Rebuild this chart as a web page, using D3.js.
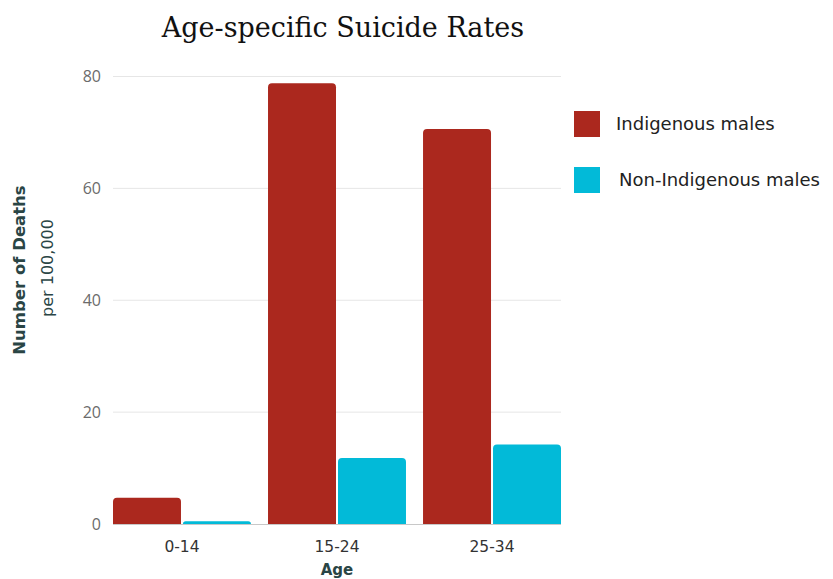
<!DOCTYPE html>
<html>
<head>
<meta charset="utf-8">
<script src="https://cdn.jsdelivr.net/npm/d3@7"></script>
<style>
  html, body { margin: 0; padding: 0; background: #fff; }
  svg { display: block; }
</style>
</head>
<body>
<svg id="chart" width="833" height="579"></svg>
<script>
const categories = ["0-14", "15-24", "25-34"];
const seriesNames = ["Indigenous males", "Non-Indigenous males"];
const indigenous = [4.7, 78.8, 70.6];
const nonIndigenous = [0.5, 11.8, 14.2];
const yTicks = [0, 20, 40, 60, 80];
const colors = ["#AB281E", "#02BAD8"];

const svg = d3.select("#chart");
const m = { left: 113, right: 561, top: 76.5, bottom: 524 };

const x0 = d3.scaleBand().domain(categories).range([m.left, m.right])
  .paddingInner(0.11).paddingOuter(0);
const x1 = d3.scaleBand().domain(seriesNames).range([0, x0.bandwidth()]).padding(0);
const y = d3.scaleLinear().domain([0, 80]).range([m.bottom, m.top]);

// gridlines
svg.append("g").selectAll("line").data(yTicks.filter(d => d > 0)).join("line")
  .attr("x1", m.left).attr("x2", m.right)
  .attr("y1", d => y(d)).attr("y2", d => y(d))
  .attr("stroke", "#e6e6e6").attr("stroke-width", 1);

// y tick labels
const yAxis = d3.axisLeft(y).tickValues(yTicks).tickSize(0).tickPadding(0);
const yg = svg.append("g").attr("transform", `translate(${m.left - 12},0)`).call(yAxis);
yg.select(".domain").remove();
yg.selectAll("text").attr("font-family", "'Open Sans', sans-serif")
  .attr("font-size", 16).attr("fill", "#6b6b6b");

// bars
const data = categories.map((c, i) => ({ cat: c, vals: [indigenous[i], nonIndigenous[i]] }));
function topRounded(x, yTop, w, h, r) {
  r = Math.min(r, h, w / 2);
  return `M${x},${yTop + h}V${yTop + r}Q${x},${yTop} ${x + r},${yTop}H${x + w - r}Q${x + w},${yTop} ${x + w},${yTop + r}V${yTop + h}Z`;
}
const groups = svg.append("g").selectAll("g").data(data).join("g")
  .attr("transform", d => `translate(${x0(d.cat)},0)`);
groups.selectAll("path").data(d => d.vals.map((v, j) => ({ v, s: seriesNames[j], j }))).join("path")
  .attr("d", d => {
    const bx = x1(d.s) + (d.j === 1 ? 1 : 0);
    const bw = x1.bandwidth() - 1;
    return topRounded(bx, y(d.v), bw, y(0) - y(d.v), 4);
  })
  .attr("fill", d => colors[d.j]);

// baseline
svg.append("line").attr("x1", m.left).attr("x2", m.right)
  .attr("y1", y(0) + 0.5).attr("y2", y(0) + 0.5)
  .attr("stroke", "#c8c8c8").attr("stroke-width", 1);

// x tick labels
const xAxis = d3.axisBottom(x0).tickSize(0).tickPadding(0);
const xg = svg.append("g").attr("transform", `translate(0,${y(0) + 17})`).call(xAxis);
xg.select(".domain").remove();
xg.selectAll("text").attr("font-family", "'DejaVu Sans', sans-serif")
  .attr("font-size", 15.5).attr("fill", "#333");

// axis titles
svg.append("text").attr("x", (m.left + m.right) / 2).attr("y", 575)
  .attr("text-anchor", "middle").attr("font-family", "'DejaVu Sans', sans-serif")
  .attr("font-weight", "bold").attr("font-size", 15).attr("fill", "#2a4545").text("Age");

svg.append("text").attr("transform", `translate(25,270) rotate(-90)`)
  .attr("text-anchor", "middle").attr("font-family", "'DejaVu Sans', sans-serif")
  .attr("font-weight", "bold").attr("font-size", 16.5).attr("fill", "#2a4545").text("Number of Deaths");
svg.append("text").attr("transform", `translate(53,268) rotate(-90)`)
  .attr("text-anchor", "middle").attr("font-family", "'DejaVu Sans', sans-serif")
  .attr("font-size", 16).attr("fill", "#2a4545").text("per 100,000");

// title
svg.append("text").attr("x", 343).attr("y", 37).attr("text-anchor", "middle")
  .attr("font-family", "'DejaVu Serif', serif").attr("font-size", 27).attr("fill", "#111")
  .text("Age-specific Suicide Rates");

// legend
const legend = svg.append("g").selectAll("g").data(seriesNames).join("g")
  .attr("transform", (d, i) => `translate(574,${111 + i * 56})`);
legend.append("rect").attr("width", 26).attr("height", 26).attr("fill", (d, i) => colors[i]);
legend.append("text").attr("x", (d, i) => i === 0 ? 42 : 45).attr("y", 13).attr("dy", "0.35em")
  .attr("font-family", "'DejaVu Sans', sans-serif").attr("font-size", 18).attr("fill", "#222")
  .text(d => d);
</script>
</body>
</html>
